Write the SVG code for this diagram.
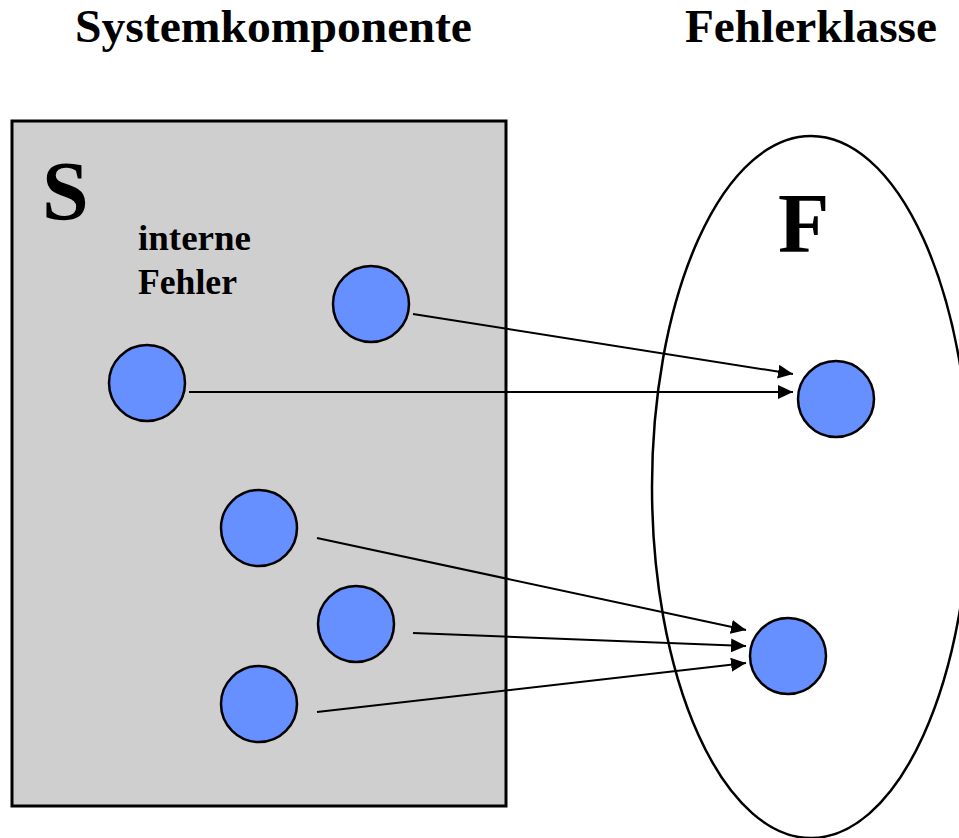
<svg xmlns="http://www.w3.org/2000/svg" width="959" height="838" viewBox="0 0 959 838">
<style>
.title{font-family:"Liberation Serif","Times New Roman",serif;font-weight:bold;font-size:47px;fill:#000}
.big{font-family:"Liberation Serif","Times New Roman",serif;font-weight:bold;font-size:84px;fill:#000}
.lbl{font-family:"Liberation Serif","Times New Roman",serif;font-weight:bold;font-size:36px;fill:#000}
.node{fill:#6690ff;stroke:#000;stroke-width:2.5}
.edge{stroke:#000;stroke-width:2;fill:none;marker-end:url(#arr)}
</style>
<defs>
<marker id="arr" markerUnits="userSpaceOnUse" markerWidth="16" markerHeight="14" refX="15" refY="7" orient="auto">
<path d="M0,0 L15,7 L0,14 z" fill="#000"/>
</marker>
</defs>
<rect width="959" height="838" fill="#fff"/>
<text class="title" x="75" y="42" textLength="397" lengthAdjust="spacingAndGlyphs">Systemkomponente</text>
<text class="title" x="685" y="42" textLength="252" lengthAdjust="spacingAndGlyphs">Fehlerklasse</text>
<g id="S">
<rect x="12" y="121" width="494" height="685" fill="#cfcfcf" stroke="#000" stroke-width="3"/>
<text class="big" x="42" y="220">S</text>
<text class="lbl" x="138" y="250" textLength="113" lengthAdjust="spacingAndGlyphs">interne</text>
<text class="lbl" x="138" y="294" textLength="99" lengthAdjust="spacingAndGlyphs">Fehler</text>
</g>
<g id="F">
<ellipse cx="811" cy="487" rx="159" ry="351" fill="#fff" stroke="#000" stroke-width="2.5"/>
<text class="big" x="778" y="252">F</text>
</g>
<g id="connectors">
<line class="edge" x1="413" y1="314" x2="793" y2="374"/>
<line class="edge" x1="189" y1="392" x2="793" y2="392"/>
<line class="edge" x1="317" y1="538" x2="746" y2="630"/>
<line class="edge" x1="413" y1="633" x2="746" y2="646"/>
<line class="edge" x1="317" y1="712" x2="746" y2="663"/>
</g>
<g id="s1"><circle class="node" cx="371" cy="304" r="38"/></g>
<g id="s2"><circle class="node" cx="147" cy="383" r="38"/></g>
<g id="s3"><circle class="node" cx="259" cy="528" r="38"/></g>
<g id="s4"><circle class="node" cx="356" cy="624" r="38"/></g>
<g id="s5"><circle class="node" cx="259" cy="704" r="38"/></g>
<g id="f1"><circle class="node" cx="836" cy="399" r="38"/></g>
<g id="f2"><circle class="node" cx="788" cy="656" r="38"/></g>
</svg>
